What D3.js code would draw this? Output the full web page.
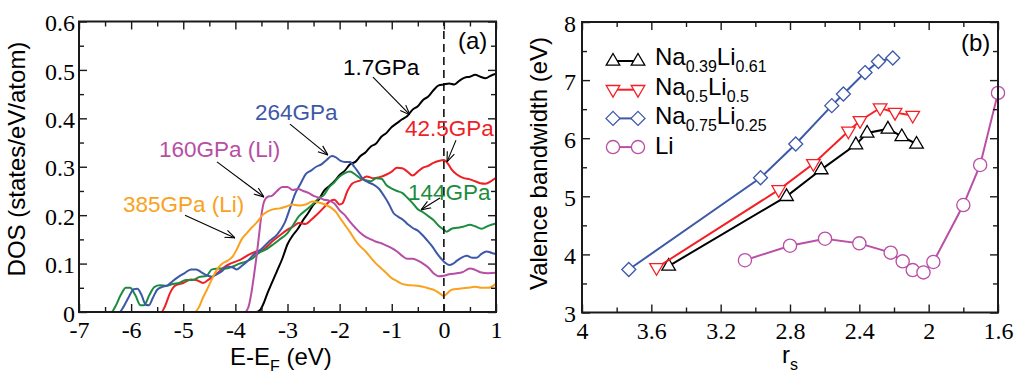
<!DOCTYPE html>
<html>
<head>
<meta charset="utf-8">
<script src="https://cdn.jsdelivr.net/npm/d3@7"></script>
<style>
  html, body { margin: 0; padding: 0; background: #fff; }
  svg { display: block; }
  .ticklabel { font-family: "Liberation Serif", "Times New Roman", Times, serif; font-size: 24px; }
</style>
</head>
<body>
<svg id="chart" width="1014" height="371"></svg>
<script>
// ---------------- Panel (a): DOS curves, [E - E_F (eV), DOS (states/eV/atom)] ----------------
const dos_1_7GPa = [[-7,0],[-3.6,0],[-3.52,0.005],[-3.45,0.02],[-3.38,0.04],[-3.3,0.06],[-3.2,0.085],[-3.1,0.11],[-3.0,0.14],[-2.9,0.158],[-2.8,0.172],[-2.7,0.19],[-2.6,0.205],[-2.5,0.222],[-2.4,0.232],[-2.3,0.25],[-2.2,0.26],[-2.1,0.27],[-2.0,0.283],[-1.9,0.292],[-1.8,0.305],[-1.7,0.31],[-1.6,0.322],[-1.5,0.33],[-1.4,0.342],[-1.3,0.348],[-1.2,0.362],[-1.1,0.37],[-1.0,0.382],[-0.9,0.39],[-0.8,0.398],[-0.7,0.405],[-0.6,0.418],[-0.5,0.425],[-0.4,0.438],[-0.3,0.445],[-0.2,0.458],[-0.1,0.468],[0,0.47],[0.1,0.472],[0.2,0.47],[0.3,0.478],[0.4,0.484],[0.5,0.486],[0.6,0.49],[0.7,0.486],[0.8,0.483],[0.9,0.488],[1.0,0.492]];
const dos_42_5GPa = [[-7,0],[-5.42,0],[-5.35,0.012],[-5.25,0.04],[-5.15,0.055],[-5.0,0.06],[-4.85,0.067],[-4.75,0.066],[-4.62,0.06],[-4.5,0.068],[-4.35,0.08],[-4.2,0.094],[-4.05,0.102],[-3.9,0.108],[-3.75,0.118],[-3.6,0.125],[-3.45,0.13],[-3.3,0.145],[-3.15,0.158],[-3.0,0.17],[-2.9,0.176],[-2.78,0.184],[-2.65,0.182],[-2.55,0.19],[-2.4,0.205],[-2.3,0.216],[-2.2,0.228],[-2.1,0.232],[-2.0,0.222],[-1.95,0.224],[-1.85,0.25],[-1.75,0.266],[-1.6,0.272],[-1.48,0.28],[-1.35,0.276],[-1.25,0.278],[-1.1,0.284],[-1.0,0.29],[-0.9,0.298],[-0.8,0.297],[-0.7,0.29],[-0.6,0.282],[-0.5,0.29],[-0.4,0.298],[-0.3,0.302],[-0.2,0.308],[-0.1,0.312],[0,0.314],[0.08,0.306],[0.15,0.294],[0.25,0.284],[0.37,0.277],[0.5,0.274],[0.6,0.27],[0.7,0.266],[0.8,0.265],[0.9,0.27],[1.0,0.277]];
const dos_144GPa = [[-7,0],[-6.38,0],[-6.3,0.012],[-6.2,0.035],[-6.1,0.05],[-6.02,0.05],[-5.92,0.035],[-5.82,0.014],[-5.75,0.014],[-5.65,0.035],[-5.55,0.052],[-5.45,0.055],[-5.32,0.054],[-5.2,0.058],[-5.08,0.06],[-4.95,0.066],[-4.82,0.066],[-4.7,0.072],[-4.55,0.075],[-4.45,0.088],[-4.3,0.09],[-4.17,0.09],[-4.05,0.094],[-3.92,0.1],[-3.8,0.104],[-3.68,0.11],[-3.55,0.122],[-3.4,0.13],[-3.27,0.14],[-3.15,0.15],[-3.0,0.163],[-2.9,0.178],[-2.78,0.198],[-2.65,0.21],[-2.5,0.224],[-2.4,0.235],[-2.3,0.242],[-2.2,0.258],[-2.1,0.268],[-2.0,0.28],[-1.9,0.287],[-1.8,0.29],[-1.7,0.284],[-1.6,0.276],[-1.5,0.272],[-1.4,0.27],[-1.3,0.276],[-1.2,0.275],[-1.1,0.262],[-1.0,0.255],[-0.9,0.25],[-0.8,0.246],[-0.7,0.236],[-0.6,0.225],[-0.5,0.212],[-0.4,0.206],[-0.3,0.198],[-0.2,0.19],[-0.1,0.178],[0,0.17],[0.05,0.166],[0.15,0.172],[0.25,0.174],[0.37,0.176],[0.5,0.18],[0.6,0.177],[0.72,0.172],[0.85,0.178],[1.0,0.183]];
const dos_264GPa = [[-7,0],[-6.22,0],[-6.15,0.01],[-6.05,0.03],[-5.95,0.047],[-5.88,0.048],[-5.8,0.035],[-5.72,0.015],[-5.66,0.014],[-5.58,0.03],[-5.5,0.046],[-5.4,0.052],[-5.3,0.055],[-5.2,0.064],[-5.1,0.072],[-4.98,0.08],[-4.85,0.088],[-4.75,0.088],[-4.65,0.082],[-4.55,0.076],[-4.45,0.073],[-4.35,0.078],[-4.25,0.085],[-4.15,0.094],[-4.05,0.092],[-3.97,0.088],[-3.88,0.095],[-3.78,0.104],[-3.65,0.118],[-3.5,0.13],[-3.35,0.146],[-3.2,0.16],[-3.05,0.185],[-2.95,0.215],[-2.85,0.245],[-2.75,0.265],[-2.65,0.285],[-2.55,0.292],[-2.45,0.3],[-2.35,0.305],[-2.25,0.314],[-2.15,0.322],[-2.08,0.32],[-1.98,0.312],[-1.9,0.31],[-1.8,0.31],[-1.72,0.3],[-1.65,0.29],[-1.55,0.274],[-1.45,0.268],[-1.35,0.263],[-1.25,0.255],[-1.15,0.24],[-1.05,0.222],[-0.97,0.205],[-0.88,0.197],[-0.78,0.19],[-0.68,0.18],[-0.59,0.173],[-0.5,0.168],[-0.42,0.16],[-0.32,0.148],[-0.22,0.135],[-0.14,0.122],[-0.05,0.11],[0.02,0.102],[0.1,0.097],[0.18,0.1],[0.25,0.106],[0.35,0.113],[0.44,0.116],[0.55,0.112],[0.63,0.112],[0.72,0.12],[0.82,0.125],[0.92,0.122],[1.0,0.12]];
const dos_160GPa_Li = [[-7,0],[-3.82,0],[-3.75,0.01],[-3.7,0.035],[-3.65,0.07],[-3.6,0.11],[-3.55,0.155],[-3.5,0.2],[-3.45,0.228],[-3.38,0.238],[-3.3,0.24],[-3.2,0.25],[-3.1,0.258],[-3.0,0.258],[-2.9,0.252],[-2.8,0.254],[-2.7,0.25],[-2.6,0.246],[-2.5,0.24],[-2.4,0.236],[-2.3,0.232],[-2.2,0.23],[-2.1,0.224],[-2.0,0.21],[-1.9,0.2],[-1.8,0.186],[-1.7,0.174],[-1.6,0.163],[-1.5,0.155],[-1.4,0.15],[-1.3,0.145],[-1.2,0.142],[-1.1,0.137],[-1.0,0.132],[-0.9,0.125],[-0.8,0.116],[-0.7,0.11],[-0.6,0.11],[-0.5,0.106],[-0.4,0.1],[-0.3,0.092],[-0.2,0.08],[-0.1,0.074],[0,0.075],[0.1,0.078],[0.25,0.08],[0.35,0.082],[0.5,0.09],[0.6,0.087],[0.7,0.082],[0.85,0.08],[1.0,0.081]];
const dos_385GPa_Li = [[-7,0],[-4.78,0],[-4.7,0.01],[-4.62,0.03],[-4.55,0.045],[-4.45,0.068],[-4.35,0.088],[-4.25,0.1],[-4.15,0.106],[-4.05,0.115],[-3.97,0.13],[-3.88,0.15],[-3.78,0.163],[-3.68,0.175],[-3.58,0.186],[-3.48,0.2],[-3.38,0.208],[-3.28,0.212],[-3.15,0.214],[-3.02,0.218],[-2.9,0.222],[-2.78,0.22],[-2.65,0.222],[-2.52,0.228],[-2.4,0.226],[-2.28,0.222],[-2.16,0.215],[-2.06,0.205],[-1.98,0.192],[-1.9,0.18],[-1.8,0.165],[-1.7,0.148],[-1.6,0.135],[-1.5,0.125],[-1.4,0.112],[-1.3,0.1],[-1.2,0.09],[-1.1,0.08],[-1.0,0.07],[-0.9,0.064],[-0.8,0.058],[-0.7,0.056],[-0.6,0.055],[-0.5,0.054],[-0.4,0.052],[-0.3,0.049],[-0.2,0.046],[-0.1,0.04],[0,0.033],[0.06,0.038],[0.15,0.046],[0.3,0.048],[0.45,0.05],[0.6,0.052],[0.72,0.05],[0.85,0.05],[1.0,0.058]];

// Curve labels: text anchor (E, DOS), arrow tail and arrow head (E, DOS)
const dosLabels = ["1.7GPa", "42.5GPa", "144GPa", "264GPa", "160GPa (Li)", "385GPa (Li)"];
const labelAt   = [[-1.935,0.4895],[-0.746,0.3635],[-0.688,0.231],[-3.624,0.3966],[-5.465,0.32],[-6.156,0.2065]];
const arrowFrom = [[-1.36,0.485],[0.233,0.355],[-0.074,0.2355],[-2.952,0.388],[-4.353,0.31],[-4.966,0.2]];
const arrowTo   = [[-0.65,0.407],[0.06,0.31],[-0.439,0.211],[-2.223,0.324],[-3.45,0.2375],[-4.007,0.153]];
const dosColors = ["#000000", "#ef1f26", "#1c8c3e", "#3e58a8", "#b74ea5", "#f9a21d"];
const dosData   = [dos_1_7GPa, dos_42_5GPa, dos_144GPa, dos_264GPa, dos_160GPa_Li, dos_385GPa_Li];

const aXTicks = [-7, -6, -5, -4, -3, -2, -1, 0, 1];
const aXMinor = [-6.5, -5.5, -4.5, -3.5, -2.5, -1.5, -0.5, 0.5];
const aYTicks = [0, 0.1, 0.2, 0.3, 0.4, 0.5, 0.6];
const aYMinor = [0.05, 0.15, 0.25, 0.35, 0.45, 0.55];
const aYLabels = ["0", "0.1", "0.2", "0.3", "0.4", "0.5", "0.6"];

// ---------------- Panel (b): valence bandwidth vs r_s ----------------
const rs_NaLi_39 = [3.5, 2.82, 2.62, 2.42, 2.355, 2.235, 2.155, 2.07];
const bw_NaLi_39 = [3.8, 5.0, 5.46, 5.89, 6.09, 6.16, 6.03, 5.9];
const rs_NaLi_50 = [3.57, 2.865, 2.665, 2.463, 2.396, 2.28, 2.194, 2.092];
const bw_NaLi_50 = [3.77, 5.11, 5.56, 6.12, 6.30, 6.52, 6.44, 6.39];
const rs_NaLi_75 = [3.73, 2.97, 2.767, 2.559, 2.492, 2.367, 2.29, 2.207];
const bw_NaLi_75 = [3.74, 5.32, 5.90, 6.56, 6.76, 7.13, 7.32, 7.38];
const rs_Li = [3.06, 2.80, 2.598, 2.40, 2.219, 2.15, 2.092, 2.03, 1.973, 1.80, 1.703, 1.60];
const bw_Li = [3.9, 4.15, 4.27, 4.19, 4.03, 3.88, 3.73, 3.69, 3.87, 4.85, 5.54, 6.78];

const bXTicks = [4, 3.6, 3.2, 2.8, 2.4, 2, 1.6];
const bXMinor = [3.8, 3.4, 3.0, 2.6, 2.2, 1.8];
const bYTicks = [3, 4, 5, 6, 7, 8];
const bYMinor = [3.5, 4.5, 5.5, 6.5, 7.5];

const SANS = "'Liberation Sans', Arial, Helvetica, sans-serif";
const FRAME = "#1a1a1a";

const svg = d3.select("#chart");

// open arrow head
svg.append("defs").append("marker")
  .attr("id", "arrowhead")
  .attr("viewBox", "0 0 10 10").attr("refX", 10).attr("refY", 5)
  .attr("markerWidth", 10).attr("markerHeight", 10)
  .attr("markerUnits", "userSpaceOnUse").attr("orient", "auto")
  .append("path").attr("d", "M0,1.2 L10,5 L0,8.8")
  .attr("fill", "none").attr("stroke", "#000").attr("stroke-width", 1.1);

// framed axes with inward major/minor ticks on all four sides
function framedAxes(g, x, y, xMaj, xMin, yMaj, yMin, xFmt, yFmt, yPad) {
  const [xl, xr] = x.range();
  const [yb, yt] = y.range();
  const MAJ = 8, MIN = 5;
  const tidy = sel => {
    sel.select(".domain").remove();
    sel.selectAll("line").attr("stroke", FRAME).attr("stroke-width", 1.4);
    sel.attr("font-family", null).attr("font-size", null);
    sel.selectAll("text").attr("class", "ticklabel").attr("fill", "#000");
  };
  g.append("g").attr("transform", `translate(0,${yb})`)
    .call(d3.axisBottom(x).tickValues(xMin).tickSize(-MIN).tickFormat("")).call(tidy);
  g.append("g").attr("transform", `translate(0,${yb})`)
    .call(d3.axisBottom(x).tickValues(xMaj).tickSize(-MAJ).tickPadding(9).tickFormat(xFmt)).call(tidy);
  g.append("g").attr("transform", `translate(0,${yt})`)
    .call(d3.axisTop(x).tickValues(xMin).tickSize(-MIN).tickFormat("")).call(tidy);
  g.append("g").attr("transform", `translate(0,${yt})`)
    .call(d3.axisTop(x).tickValues(xMaj).tickSize(-MAJ).tickFormat("")).call(tidy);
  g.append("g").attr("transform", `translate(${xl},0)`)
    .call(d3.axisLeft(y).tickValues(yMin).tickSize(-MIN).tickFormat("")).call(tidy);
  g.append("g").attr("transform", `translate(${xl},0)`)
    .call(d3.axisLeft(y).tickValues(yMaj).tickSize(-MAJ).tickPadding(yPad).tickFormat(yFmt)).call(tidy)
    .selectAll("text").attr("dy", "0.38em");
  g.append("g").attr("transform", `translate(${xr},0)`)
    .call(d3.axisRight(y).tickValues(yMin).tickSize(-MIN).tickFormat("")).call(tidy);
  g.append("g").attr("transform", `translate(${xr},0)`)
    .call(d3.axisRight(y).tickValues(yMaj).tickSize(-MAJ).tickFormat("")).call(tidy);
  g.append("rect")
    .attr("x", xl).attr("y", yt).attr("width", xr - xl).attr("height", yb - yt)
    .attr("fill", "none").attr("stroke", FRAME).attr("stroke-width", 2);
}

// ================= Panel (a) =================
const xa = d3.scaleLinear().domain([-7, 1]).range([79, 496]);
const ya = d3.scaleLinear().domain([0, 0.6]).range([312, 21.5]);
const ga = svg.append("g");

ga.append("clipPath").attr("id", "clipA").append("rect")
  .attr("x", xa(-7)).attr("y", ya(0.6)).attr("width", xa(1) - xa(-7)).attr("height", ya(0) - ya(0.6));

const lineA = d3.line().x(d => xa(d[0])).y(d => ya(d[1])).curve(d3.curveMonotoneX);
const curves = ga.append("g").attr("clip-path", "url(#clipA)");
dosData.forEach((data, i) => {
  curves.append("path").datum(data)
    .attr("d", lineA).attr("fill", "none")
    .attr("stroke", dosColors[i]).attr("stroke-width", 2).attr("stroke-linejoin", "round");
});

// Fermi level
ga.append("line")
  .attr("x1", xa(0)).attr("x2", xa(0)).attr("y1", ya(0)).attr("y2", ya(0.6))
  .attr("stroke", "#000").attr("stroke-width", 1.5).attr("stroke-dasharray", "8,5");

framedAxes(ga, xa, ya, aXTicks, aXMinor, aYTicks, aYMinor,
  d => String(d), (d, i) => aYLabels[i], 4);

// curve labels with arrows
dosLabels.forEach((t, i) => {
  ga.append("line")
    .attr("x1", xa(arrowFrom[i][0])).attr("y1", ya(arrowFrom[i][1]))
    .attr("x2", xa(arrowTo[i][0])).attr("y2", ya(arrowTo[i][1]))
    .attr("stroke", "#000").attr("stroke-width", 1.1)
    .attr("marker-end", "url(#arrowhead)");
  ga.append("text")
    .attr("x", xa(labelAt[i][0])).attr("y", ya(labelAt[i][1]))
    .attr("font-family", SANS).attr("font-size", 22.5)
    .attr("fill", dosColors[i]).text(t);
});

ga.append("text").attr("x", 458).attr("y", 49)
  .attr("font-family", SANS).attr("font-size", 24).text("(a)");

// axis titles
const xtA = ga.append("text").attr("x", 230).attr("y", 365)
  .attr("font-family", SANS).attr("font-size", 24);
xtA.append("tspan").text("E-E");
xtA.append("tspan").attr("font-size", 16).attr("dy", 7).text("F");
xtA.append("tspan").attr("dy", -7).text(" (eV)");

ga.append("text").attr("transform", "translate(25,159) rotate(-90)")
  .attr("text-anchor", "middle")
  .attr("font-family", SANS).attr("font-size", 24)
  .text("DOS (states/eV/atom)");

// ================= Panel (b) =================
const xb = d3.scaleLinear().domain([4, 1.6]).range([582, 998]);
const yb = d3.scaleLinear().domain([3, 8]).range([312.5, 22]);
const gb = svg.append("g");

const symbolPath = {
  up:      "M0,-7.5L6.8,4.2L-6.8,4.2Z",
  down:    "M0,7.5L6.8,-4.2L-6.8,-4.2Z",
  diamond: "M0,-7L7,0L0,7L-7,0Z",
  circle:  "M6.6,0A6.6,6.6 0 1,1 -6.6,0A6.6,6.6 0 1,1 6.6,0Z"
};

const bSeries = [
  { label: ["Na", "0.39", "Li", "0.61"], rs: rs_NaLi_39, bw: bw_NaLi_39, color: "#000000", sym: "up" },
  { label: ["Na", "0.5", "Li", "0.5"],   rs: rs_NaLi_50, bw: bw_NaLi_50, color: "#f52026", sym: "down" },
  { label: ["Na", "0.75", "Li", "0.25"], rs: rs_NaLi_75, bw: bw_NaLi_75, color: "#3d59a8", sym: "diamond" },
  { label: ["Li"],                       rs: rs_Li,      bw: bw_Li,      color: "#b94fa6", sym: "circle" }
];

const lineB = d3.line().x(d => xb(d[0])).y(d => yb(d[1]));
bSeries.forEach(s => {
  const pts = s.rs.map((r, i) => [r, s.bw[i]]);
  gb.append("path").datum(pts).attr("d", lineB)
    .attr("fill", "none").attr("stroke", s.color).attr("stroke-width", 2);
  gb.selectAll(null).data(pts).join("path")
    .attr("transform", d => `translate(${xb(d[0])},${yb(d[1])})`)
    .attr("d", symbolPath[s.sym])
    .attr("fill", "#fff").attr("stroke", s.color).attr("stroke-width", 1.3);
});

framedAxes(gb, xb, yb, bXTicks, bXMinor, bYTicks, bYMinor,
  d => String(d), d => String(d), 6);

// legend
bSeries.forEach((s, i) => {
  const my = 61 + i * 28.7;
  const ty = 65 + i * 29.7;
  gb.append("line").attr("x1", 613).attr("x2", 638).attr("y1", my).attr("y2", my)
    .attr("stroke", s.color).attr("stroke-width", 2);
  [613, 638].forEach(mx => {
    gb.append("path").attr("transform", `translate(${mx},${my})`)
      .attr("d", symbolPath[s.sym])
      .attr("fill", "#fff").attr("stroke", s.color).attr("stroke-width", 1.3);
  });
  const t = gb.append("text").attr("x", 655).attr("y", ty)
    .attr("font-family", SANS).attr("font-size", 24).attr("fill", "#000");
  s.label.forEach((part, k) => {
    const sub = k % 2 === 1;
    t.append("tspan")
      .attr("font-size", sub ? 16 : 24)
      .attr("dy", k === 0 ? 0 : (sub ? 7 : -7))
      .text(part);
  });
});

gb.append("text").attr("x", 961).attr("y", 51)
  .attr("font-family", SANS).attr("font-size", 24).text("(b)");

const xtB = gb.append("text").attr("x", 782).attr("y", 363)
  .attr("font-family", SANS).attr("font-size", 24);
xtB.append("tspan").text("r");
xtB.append("tspan").attr("font-size", 16).attr("dy", 7).text("s");

gb.append("text").attr("transform", "translate(547,163.5) rotate(-90)")
  .attr("text-anchor", "middle")
  .attr("font-family", SANS).attr("font-size", 24)
  .text("Valence bandwidth (eV)");
</script>
</body>
</html>
